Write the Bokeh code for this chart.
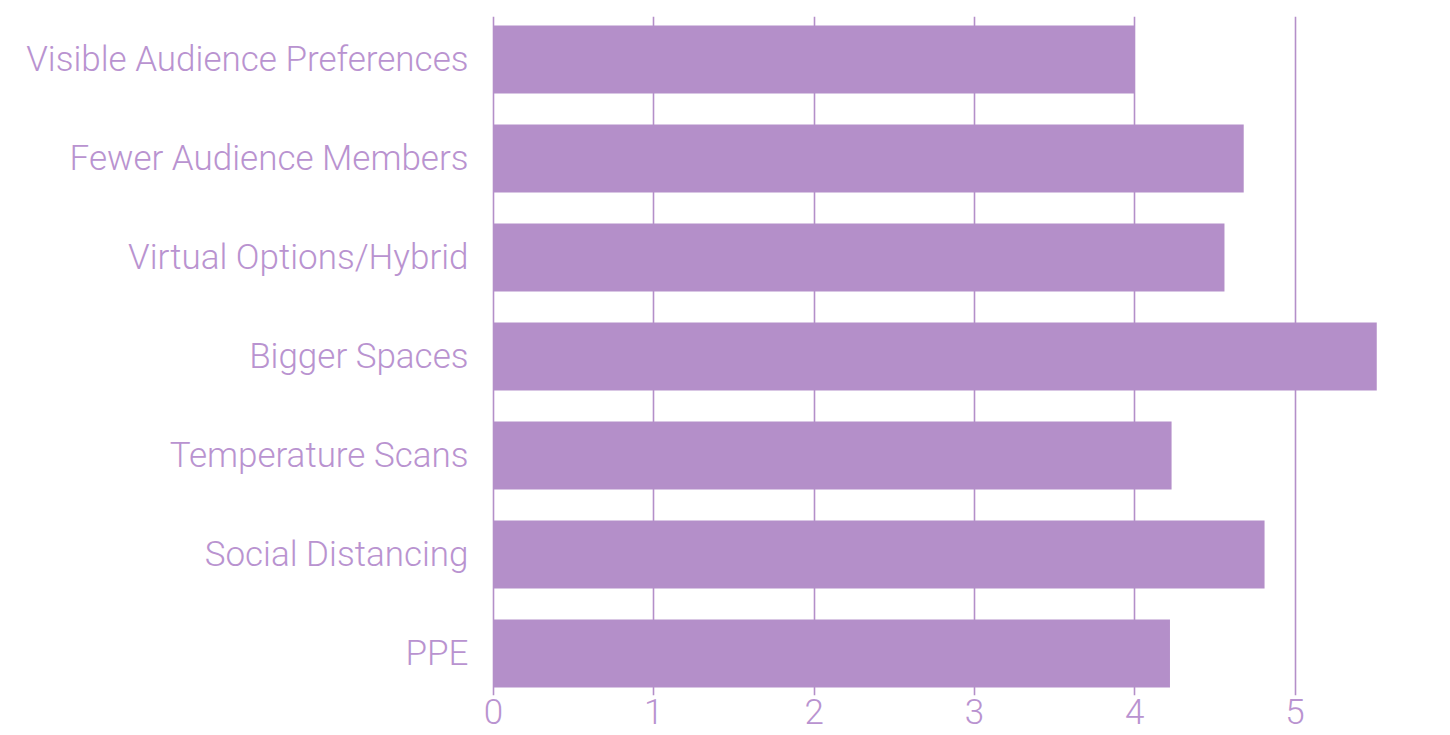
from bokeh.plotting import figure
from bokeh.models import Range1d, FixedTicker, ColumnDataSource
from bokeh.embed import file_html
from bokeh.resources import INLINE

categories = [
    "Visible Audience Preferences",
    "Fewer Audience Members",
    "Virtual Options/Hybrid",
    "Bigger Spaces",
    "Temperature Scans",
    "Social Distancing",
    "PPE",
]
values = [4.0, 4.68, 4.56, 5.51, 4.23, 4.81, 4.22]
x_ticks = [0, 1, 2, 3, 4, 5]

PURPLE = "#b48fc9"
TEXT = "#b993d0"
FONT = "Roboto Light"
FONT_SIZE = "35px"

n = len(categories)
ypos = [n - 1 - i for i in range(n)]
src = ColumnDataSource(dict(y=ypos, right=values, cat=categories))

p = figure(
    width=1450, height=735,
    x_range=Range1d(-0.0125, 5.97),
    y_range=Range1d(-0.424, n - 1 + 0.434),
    output_backend="svg", toolbar_location=None,
    min_border_left=491, min_border_right=0, min_border_top=16, min_border_bottom=40,
)
p.hbar(y="y", right="right", left=0, height=0.687, source=src,
       fill_color=PURPLE, line_color=None)

p.outline_line_color = None
p.background_fill_color = "white"
p.ygrid.grid_line_color = None
p.xgrid.grid_line_color = PURPLE
p.xgrid.grid_line_width = 1.6
p.xgrid.ticker = FixedTicker(ticks=x_ticks)

p.xaxis.ticker = FixedTicker(ticks=x_ticks)
p.yaxis.ticker = FixedTicker(ticks=ypos)
p.yaxis.major_label_overrides = {y: c for y, c in zip(ypos, categories)}

for ax in (p.xaxis[0], p.yaxis[0]):
    ax.axis_line_color = None
    ax.major_tick_line_color = None
    ax.minor_tick_line_color = None
    ax.major_tick_out = 0
    ax.major_tick_in = 0
    ax.major_label_text_font = FONT
    ax.major_label_text_font_size = FONT_SIZE
    ax.major_label_text_color = TEXT
p.xaxis.major_label_standoff = 3
p.yaxis.major_label_standoff = 23

open("out.html", "w").write(file_html(p, INLINE))
